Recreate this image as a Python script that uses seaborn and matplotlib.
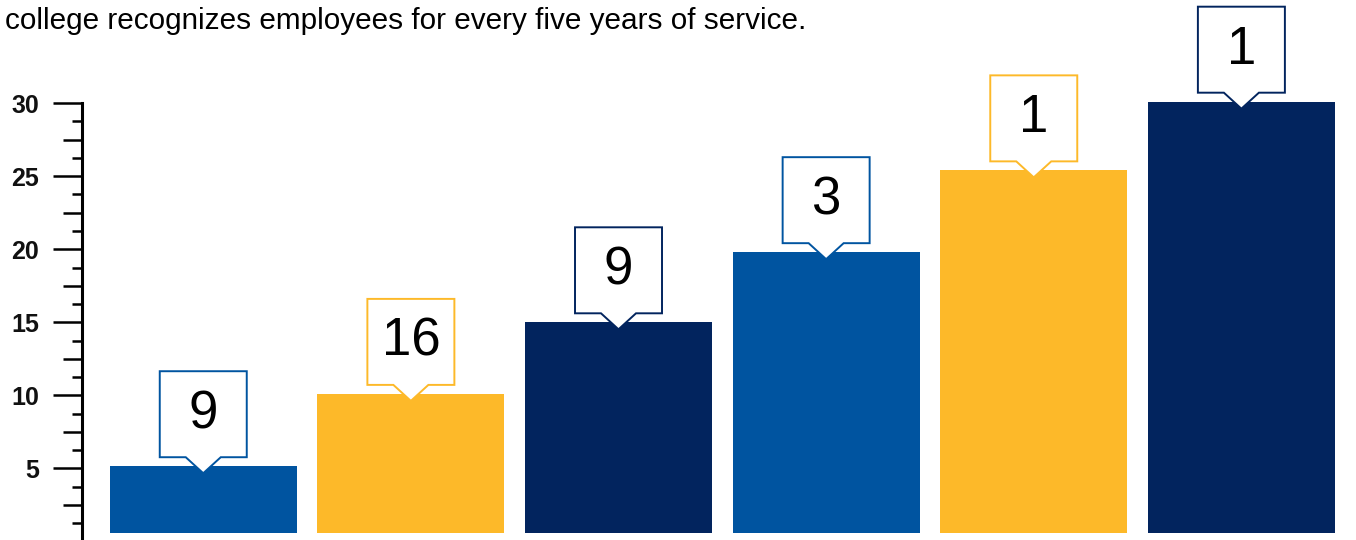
import matplotlib
matplotlib.use("Agg")
import matplotlib.pyplot as plt
import matplotlib.transforms as mtransforms
from matplotlib.patches import Polygon
import seaborn as sns
import pandas as pd
import numpy as np

# ---- data ----
categories = ["5 years", "10 years", "15 years", "20 years", "25 years", "30 years"]
years = [5.15, 10.1, 15.0, 19.8, 25.4, 30.1]
employees = [9, 16, 9, 3, 1, 1]
colors = ["#0054A0", "#FDB929", "#02245E", "#0054A0", "#FDB929", "#02245E"]
title = "college recognizes employees for every five years of service."
ytick_vals = [5, 10, 15, 20, 25, 30]

sns.set_theme(style="white")
plt.rcParams["font.family"] = ["Liberation Sans", "DejaVu Sans"]

W, H, DPI = 1356, 540, 100
fig = plt.figure(figsize=(W / DPI, H / DPI), dpi=DPI)
ax = fig.add_axes([82 / W, 0, 1 - 82 / W, 1])

df = pd.DataFrame({"cat": categories, "years": years})
sns.barplot(data=df, x="cat", y="years", hue="cat", palette=colors,
            width=0.9, legend=False, ax=ax, saturation=1, linewidth=0)

base = 0.6
for p in ax.patches:
    top = p.get_y() + p.get_height()
    p.set_y(base)
    p.set_height(top - base)

ax.set_xlim(-0.584, 5.552)
ax.set_ylim(0.1, 37.06)

# axes styling
for s in ["top", "right", "bottom"]:
    ax.spines[s].set_visible(False)
ax.spines["left"].set_color("black")
ax.spines["left"].set_linewidth(2.2)
ax.spines["left"].set_bounds(0.1, 30)
ax.set_xticks([])
ax.set_xlabel("")
ax.set_ylabel("")

ax.set_yticks(ytick_vals)
ax.set_yticklabels([str(v) for v in ytick_vals], fontsize=18, fontweight="bold",
                   color="#111111")
ax.tick_params(axis="y", which="major", length=21, width=1.8, color="black",
               direction="out", pad=10, left=True)
minor_vals = [v for v in np.arange(1.25, 30, 1.25) if abs(v % 5) > 1e-6]
ax.set_yticks(minor_vals, minor=True)
ax.tick_params(axis="y", which="minor", length=7, width=1.8, color="black",
               direction="out", left=True)
for t, v in zip(ax.yaxis.get_minor_ticks(), minor_vals):
    if abs((v % 5) - 2.5) < 1e-6:
        t.tick1line.set_markersize(13.5)

# callouts
box_w, box_bot, box_top = 43.5, 9, 95
ptr_w, tip = 17.5, -7
verts = np.array([(-box_w, box_bot), (-ptr_w, box_bot), (0, tip), (ptr_w, box_bot),
                  (box_w, box_bot), (box_w, box_top), (-box_w, box_top)]) / DPI
for i, (top, n, c) in enumerate(zip(years, employees, colors)):
    tr = fig.dpi_scale_trans + mtransforms.ScaledTranslation(i, top, ax.transData)
    poly = Polygon(verts, closed=True, facecolor="white", edgecolor=c,
                   linewidth=1.4, transform=tr, zorder=5, clip_on=False)
    ax.add_patch(poly)
    ax.text(0, (box_bot + box_top) / 2 / DPI, str(n), transform=tr, ha="center",
            va="center", fontsize=38, color="black", zorder=6)

ttl = fig.text(5 / W, 1 - 29 / H, title, ha="left", va="baseline", fontsize=23,
               color="black")
# fit the title to the reference width
renderer = fig.canvas.get_renderer()
w = ttl.get_window_extent(renderer).width
ttl.set_fontsize(23 * 803 / w)

fig.savefig("out.png", dpi=DPI)
